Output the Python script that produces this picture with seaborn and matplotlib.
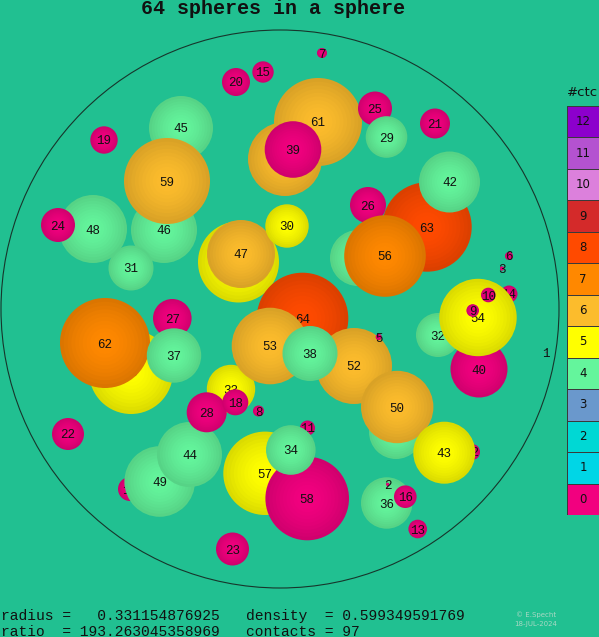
import numpy as np
import matplotlib
matplotlib.use("Agg")
import matplotlib.pyplot as plt
from matplotlib.patches import Circle
from matplotlib.colors import ListedColormap, to_rgb
import seaborn as sns

# ---- data (image units: x right, y down), listed back-to-front ----
ids = [45, 46, 48, 59, 24, 31, 19, 20, 15, 7, 51, 61, 39, 25, 29, 21, 63, 42, 26, 41,
       56, 55, 47, 30, 6, 3, 60, 62, 27, 37, 64, 33, 53, 52, 38, 5, 32, 40, 14, 54,
       10, 9, 1, 17, 49, 44, 28, 18, 8, 22, 35, 50, 12, 43, 57, 58, 11, 34, 23, 36,
       2, 16, 13]
cx = [181, 164, 93, 167, 58, 131, 104, 236, 263, 322, 285, 318, 293, 375, 386.5, 435, 427, 449.5, 368, 358,
      385, 238.5, 241, 287, 509, 502, 131, 105, 172.3, 174, 302.5, 231, 270, 354, 310, 378.7, 438, 479, 509, 478,
      488.3, 472.7, 546, 130, 159.7, 189.5, 206.7, 235.3, 258.5, 68, 396, 397.2, 472, 444.3, 265, 307.2, 307.5, 290.8, 232.5, 386.7,
      387.7, 405.3, 417.7]
cy = [128, 230, 229, 181, 225, 268, 140, 82, 72, 53, 159, 122, 149.5, 108.5, 137, 123.5, 227, 182, 205, 258,
      256, 262, 254, 226, 256, 268.5, 372, 343, 318.3, 355.5, 318.5, 389, 346, 366, 353.5, 337, 335, 369, 294, 317.5,
      295, 310.5, 352.5, 489, 481.5, 454.5, 412.3, 402.3, 411, 434, 432, 407, 452, 452.7, 473.3, 498.5, 428, 450, 549, 503,
      484.3, 496.7, 529]
rad = [32, 33, 34, 43, 17, 22.5, 13.7, 14, 10.7, 5, 37, 44, 28.3, 17, 20.8, 15, 44.7, 30.5, 18, 28,
       40.8, 40.5, 34, 21.7, 4, 2, 42, 45, 19.3, 27.2, 45.8, 24.2, 38.3, 38, 27.5, 3, 22, 28.5, 8.5, 38.7,
       7.3, 6.3, 0.25, 12, 35.3, 32.5, 20, 13, 5.5, 16, 27, 36.2, 8, 31, 41.7, 41.8, 7.5, 24.8, 16.5, 25.7,
       1.5, 11.3, 9.3]
ctc = [4, 4, 4, 6, 0, 4, 0, 0, 0, 0, 6, 6, 0, 0, 4, 0, 8, 4, 0, 4,
       7, 5, 6, 5, 0, 0, 5, 7, 0, 4, 8, 5, 6, 6, 4, 0, 4, 0, 0, 5,
       0, 0, 0, 0, 4, 4, 0, 0, 0, 0, 4, 6, 0, 5, 5, 0, 0, 4, 0, 4,
       0, 0, 0]

legend_levels = list(range(12, -1, -1))
level_colors = ['#f2007f', '#00d6e6', '#00d8d4', '#6a98cc', '#64f59c', '#ffff00', '#fcbc2c',
                '#ff8800', '#ff4a00', '#d42a2a', '#dc80dc', '#b452d0', '#8c00cc']

title = "64 spheres in a sphere"
info_lines = ["radius =   0.331154876925   density  = 0.599349591769",
              "ratio  = 193.263045358969   contacts = 97"]
credit = ["\u00a9 E.Specht", "18-JUL-2024"]

container = (280, 309, 279)

BG = '#21c091'
W, H = 599, 637

sns.set_style("white")
plt.rcParams['font.family'] = ['DejaVu Sans']

fig = plt.figure(figsize=(W / 100, H / 100), dpi=100, facecolor=BG)
ax = fig.add_axes([0, 0, 1, 1])
ax.set_facecolor(BG)
ax.set_xlim(0, W)
ax.set_ylim(H, 0)
ax.set_axis_off()

ax.add_patch(Circle(container[:2], container[2], fill=False, lw=0.8,
                    ec='#17352b', zorder=1))

n_layers = 12
for i, (sid, x, y, r, c) in enumerate(zip(ids, cx, cy, rad, ctc)):
    base = np.array(to_rgb(level_colors[c]))
    edge = base * 0.86
    z = 2 + i * 0.01
    for k in range(n_layers):
        f = k / (n_layers - 1)
        rr = r * (1 - 0.92 * f)
        col = edge + (base - edge) * (1 - (1 - f) ** 1.6)
        ax.add_patch(Circle((x, y), rr, fc=tuple(np.clip(col, 0, 1)),
                            ec='none', zorder=z + k * 0.0001))
    ax.text(x, y, str(sid), ha='center', va='center_baseline', fontsize=9,
            family=['Liberation Mono', 'DejaVu Sans Mono'], color='#111111',
            zorder=z + 0.005)

fig.text(273 / W, 1 - 8 / H, title, ha='center', va='center', fontsize=14.4,
         fontweight='bold', family=['Liberation Mono', 'DejaVu Sans Mono'], color='#111111')

for j, line in enumerate(info_lines):
    fig.text(1 / W, 1 - (616 + 15.5 * j) / H, line, ha='left', va='center',
             fontsize=10.5, family=['Liberation Mono', 'DejaVu Sans Mono'], color='#111111')

for j, line in enumerate(credit):
    fig.text(536 / W, 1 - (615 + 9 * j) / H, line, ha='center', va='center',
             fontsize=5, color='#a8d8c4')

# legend as a one-column heatmap
lax = fig.add_axes([567 / W, (H - 515) / H, 32 / W, 409 / H])
cmap = ListedColormap(level_colors)
data = np.array(legend_levels).reshape(-1, 1)
sns.heatmap(data, ax=lax, cmap=cmap, vmin=-0.5, vmax=12.5, annot=True, fmt='d',
            annot_kws={'fontsize': 8.5, 'color': '#111111'}, cbar=False,
            linewidths=0.7, linecolor='#3a3a3a', xticklabels=False, yticklabels=False)
for t in lax.texts:
    t.set_color('#111111')
fig.text(583 / W, 1 - 92 / H, '#ctc', ha='center', va='center', fontsize=9.5, color='#111111')

fig.savefig('out.png', dpi=100, facecolor=BG)
